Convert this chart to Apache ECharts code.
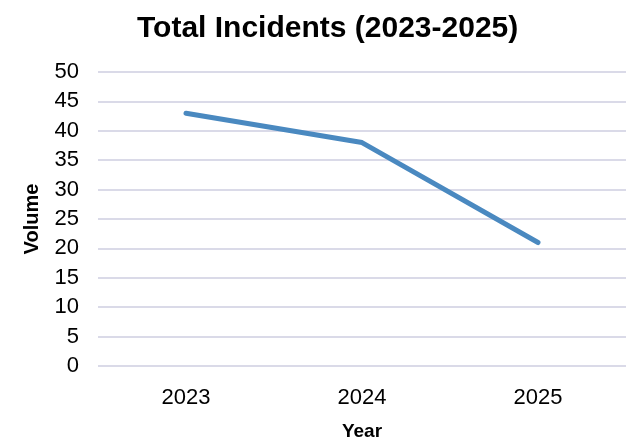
<!DOCTYPE html>
<html>
<head>
<meta charset="utf-8">
<script src="https://cdn.jsdelivr.net/npm/echarts@6/dist/echarts.min.js"></script>
<style>
  html, body { margin: 0; padding: 0; background: #fff; }
  #chart { width: 628px; height: 440px; }
</style>
</head>
<body>
<div id="chart"></div>
<script>
const years = ['2023', '2024', '2025']
const incidents = [43, 38, 21]

const chart = echarts.init(document.getElementById('chart'))
const font = 'Liberation Sans, Arial, sans-serif'

chart.setOption({
    animation: false,
    title: {
        text: 'Total Incidents (2023-2025)',
        left: 132,
        top: 9,
        textStyle: { fontFamily: font, fontSize: 30, fontWeight: 'bold', color: '#000' }
    },
    grid: { left: 98, right: 2, top: 72, bottom: 74, outerBoundsMode: 'none' },
    xAxis: {
        type: 'category',
        data: years,
        name: 'Year',
        nameLocation: 'middle',
        nameGap: 56,
        nameTextStyle: { fontFamily: font, fontSize: 19, fontWeight: 'bold', color: '#000' },
        axisLine: { show: false },
        axisTick: { show: false },
        axisLabel: { fontFamily: font, fontSize: 22, color: '#000', margin: 21 }
    },
    yAxis: {
        type: 'value',
        min: 0,
        max: 50,
        interval: 5,
        name: 'Volume',
        nameLocation: 'middle',
        nameGap: 56,
        nameTextStyle: { fontFamily: font, fontSize: 20, fontWeight: 'bold', color: '#000' },
        axisLine: { show: false },
        axisTick: { show: false },
        axisLabel: { fontFamily: font, fontSize: 22, color: '#000', margin: 19 },
        splitLine: { lineStyle: { color: '#dadae8', width: 2 } }
    },
    series: [{
        type: 'line',
        data: incidents,
        symbol: 'none',
        lineStyle: { color: '#4a89c0', width: 5, cap: 'round' }
    }]
})
</script>
</body>
</html>
